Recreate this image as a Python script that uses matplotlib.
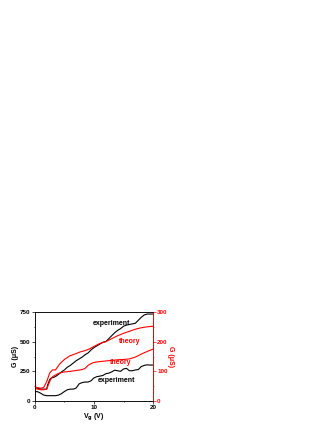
import matplotlib
matplotlib.use("Agg")
import matplotlib.pyplot as plt
from matplotlib.ticker import MultipleLocator

plt.rcParams['font.family'] = ['Liberation Sans', 'DejaVu Sans']
plt.rcParams['font.weight'] = 'bold'

# experiment (left axis, uS)
exp_hi_x = [0, 0.3, 1, 2, 2.2, 2.5, 2.8, 3.2, 3.6, 4, 4.5, 5, 5.5, 6, 6.5, 7, 7.5, 8, 8.5, 9, 9.5, 10, 10.5, 11, 11.5, 12, 12.5, 13, 13.5, 14, 14.5, 15, 15.5, 16, 16.5, 17, 17.5, 18, 18.5, 19, 19.5, 20]
exp_hi_y = [118, 110, 100, 100, 140, 180, 195, 200, 210, 225, 245, 262, 285, 300, 320, 340, 355, 370, 390, 405, 430, 450, 465, 480, 495, 500, 525, 550, 575, 595, 610, 630, 640, 645, 650, 655, 680, 705, 725, 733, 733, 733]
exp_lo_x = [0, 0.5, 1, 1.5, 2, 2.5, 3, 3.5, 4, 4.5, 5, 5.5, 6, 6.5, 7, 7.5, 8, 8.5, 9, 9.5, 10, 10.5, 11, 11.5, 12, 12.5, 13, 13.5, 14, 14.5, 15, 15.5, 16, 16.5, 17, 17.5, 18, 18.5, 19, 19.5, 20]
exp_lo_y = [80, 78, 65, 50, 45, 45, 45, 45, 50, 62, 80, 95, 100, 100, 110, 145, 155, 160, 160, 170, 195, 205, 210, 215, 230, 235, 245, 260, 255, 250, 270, 275, 255, 255, 262, 265, 290, 300, 305, 303, 303]

# theory (right axis, uS)
th_hi_x = [0, 0.05, 0.15, 0.5, 1, 1.5, 2, 2.5, 3, 3.5, 4.2, 5, 5.9, 7, 7.6, 8.5, 9.3, 10, 11, 12, 12.7, 14, 15, 16, 17, 18, 19, 20]
th_hi_y = [75, 70, 45, 45, 43, 46, 65, 94, 105, 105, 125, 140, 152, 160, 165, 170, 176, 184, 194, 200, 207, 220, 228, 235, 242, 247, 250, 252]
th_lo_x = [0, 0.1, 0.5, 1, 1.5, 2, 2.3, 2.6, 3, 3.5, 4, 4.5, 5, 6, 7, 8, 8.5, 9, 9.5, 10, 11, 12, 13, 14, 15, 16, 17, 18, 19, 20]
th_lo_y = [50, 42, 40, 38, 38, 40, 55, 70, 82, 88, 93, 96, 98, 100, 103, 106, 110, 120, 126, 130, 133, 135, 137, 139, 140, 142, 148, 158, 167, 175]

fig = plt.figure(figsize=(3.32, 4.30), dpi=100)
ax = fig.add_axes([0.105, 0.0674, 0.356, 0.207])
ax2 = ax.twinx()

ax.plot(exp_hi_x, exp_hi_y, color='black', lw=0.8)
ax.plot(exp_lo_x, exp_lo_y, color='black', lw=0.8)
ax2.plot(th_hi_x, th_hi_y, color='red', lw=0.8)
ax2.plot(th_lo_x, th_lo_y, color='red', lw=0.8)

ax.set_xlim(0, 20)
ax.set_ylim(0, 750)
ax2.set_ylim(0, 300)

fs = 4.5
ax.xaxis.set_major_locator(MultipleLocator(10))
ax.xaxis.set_minor_locator(MultipleLocator(5))
ax.yaxis.set_major_locator(MultipleLocator(250))
ax.yaxis.set_minor_locator(MultipleLocator(125))
ax2.yaxis.set_major_locator(MultipleLocator(100))
ax2.yaxis.set_minor_locator(MultipleLocator(50))

for a in (ax, ax2):
    a.tick_params(which='major', length=2, width=0.5, labelsize=fs, pad=1)
    a.tick_params(which='minor', length=1, width=0.5)
    for s in a.spines.values():
        s.set_linewidth(0.5)
ax2.tick_params(axis='y', which='both', colors='red', labelcolor='red')
ax2.spines['right'].set_color('red')

ax.set_xlabel('V$_{\\mathbf{g}}$ (V)', fontsize=5, fontweight='bold', labelpad=1)
ax.set_ylabel('G (\u03bcS)', fontsize=5, fontweight='bold', labelpad=0.5)
ax2.set_ylabel('G (\u03bcS)', fontsize=5, fontweight='bold', color='red', rotation=270, labelpad=4.5)

ax.text(13, 657, 'experiment', fontsize=5, fontweight='bold', ha='center', va='center')
ax.text(13.8, 174, 'experiment', fontsize=5, fontweight='bold', ha='center', va='center')
ax2.text(16.1, 200, 'theory', fontsize=5, fontweight='bold', ha='center', va='center', color='red')
ax2.text(14.5, 131, 'theory', fontsize=5, fontweight='bold', ha='center', va='center', color='red')

fig.savefig('out.png', dpi=100)
